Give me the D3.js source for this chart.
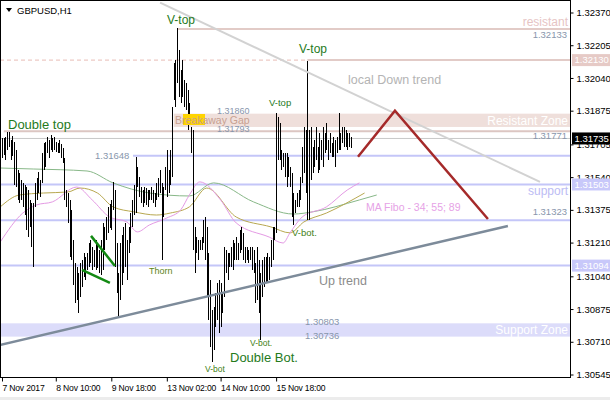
<!DOCTYPE html>
<html><head><meta charset="utf-8">
<script src="https://cdn.jsdelivr.net/npm/d3@7"></script>
<style>
html,body{margin:0;padding:0;background:#fff;}
svg{display:block;font-family:"Liberation Sans",Arial,sans-serif;}
</style></head><body>
<svg id="c" width="610" height="400"></svg>
<script>
// ---------- DATA ----------
const symbol = "GBPUSD,H1";
const priceTicks = [1.32370,1.32205,1.32040,1.31875,1.31705,1.31540,1.31375,1.31210,1.31040,1.30875,1.30710,1.30545];
const dateLabels = ["7 Nov 2017","8 Nov 10:00","9 Nov 18:00","13 Nov 02:00","14 Nov 10:00","15 Nov 18:00"];
const dateLabelBars = [0,31,63,95,126,158];

const highs = [
1.31738,1.31738,1.31743,1.31768,1.31768,1.31727,1.31748,1.31717,1.31677,1.31576,
1.31561,1.31526,1.31511,1.31501,1.31490,1.31475,1.31425,1.31410,1.31410,1.31511,
1.31536,1.31566,1.31526,1.31662,1.31712,1.31717,1.31743,1.31727,1.31753,1.31738,
1.31743,1.31717,1.31712,1.31727,1.31707,1.31687,1.31637,1.31475,1.31460,1.31425,
1.31375,1.31223,1.31107,1.31087,1.31057,1.31107,1.31123,1.31158,1.31138,1.31158,
1.31208,1.31223,1.31188,1.31173,1.31223,1.31198,1.31173,1.31223,1.31309,1.31289,
1.31339,1.31390,1.31405,1.31425,1.31516,1.31475,1.31208,1.31057,1.31208,1.31249,
1.31289,1.31309,1.31223,1.31289,1.31359,1.31425,1.31501,1.31642,1.31591,1.31541,
1.31490,1.31475,1.31490,1.31485,1.31475,1.31475,1.31490,1.31475,1.31460,1.31511,
1.31536,1.31576,1.31511,1.31490,1.31591,1.31677,1.31576,1.31677,
1.31894,1.32115,1.32131,1.32292,1.32181,1.32080,1.32131,1.32030,1.32015,1.31979,
1.31914,1.31793,1.31778,1.31289,1.31238,1.31223,1.31223,1.31238,1.31324,1.31339,
1.31289,1.31158,1.31022,1.30871,1.30886,1.30956,1.31007,1.31022,1.31007,1.30956,
1.31188,1.31173,1.31158,1.31158,1.31188,1.31223,1.31208,1.31238,1.31208,1.31274,
1.31289,1.31259,1.31188,1.31188,1.31173,1.31188,1.31188,1.31173,1.31107,1.31188,
1.31123,1.31057,1.31123,1.31138,1.31138,1.31158,1.31138,1.31223,1.31289,1.31289,
1.31863,1.31843,1.31813,1.31677,1.31662,1.31662,1.31662,1.31642,1.31591,1.31561,
1.31460,1.31425,1.31460,1.31475,1.31541,1.31692,1.31793,1.31778,1.32126,1.31778,
1.31793,1.31692,1.31727,1.31793,1.31692,1.31763,1.31727,1.31793,1.31763,1.31813,
1.31727,1.31763,1.31712,1.31743,1.31727,1.31743,1.31863,1.31763,1.31793,1.31793,
1.31778,1.31763,1.31763,1.31743];
const lows = [
1.31637,1.31652,1.31627,1.31677,1.31692,1.31627,1.31647,1.31501,1.31490,1.31425,
1.31410,1.31425,1.31390,1.31349,1.31274,1.31238,1.31289,1.31188,1.31087,1.31390,
1.31425,1.31460,1.31440,1.31511,1.31576,1.31591,1.31662,1.31637,1.31677,1.31667,
1.31677,1.31667,1.31662,1.31662,1.31637,1.31612,1.31425,1.31390,1.31309,1.31138,
1.31123,1.30997,1.30906,1.30921,1.30855,1.30936,1.30986,1.31037,1.31022,1.31072,
1.31087,1.31107,1.31072,1.31087,1.31072,1.31082,1.31057,1.31047,1.31072,1.31173,
1.31223,1.31259,1.31284,1.31274,1.31375,1.31087,1.30956,1.30835,1.30921,1.30997,
1.31057,1.31087,1.31022,1.31158,1.31208,1.31289,1.31349,1.31359,1.31490,1.31440,
1.31410,1.31390,1.31410,1.31400,1.31390,1.31425,1.31425,1.31410,1.31390,1.31425,
1.31440,1.31460,1.31123,1.31339,1.31475,1.31440,1.31460,1.31501,
1.31541,1.31929,1.31894,1.32015,1.31944,1.31914,1.31944,1.31894,1.31879,1.31778,
1.31843,1.31662,1.31173,1.31057,1.31158,1.31123,1.31173,1.31173,1.31208,1.31123,
1.30936,1.30820,1.30684,1.30608,1.30669,1.30785,1.30820,1.30755,1.30785,1.30855,
1.30936,1.31057,1.31022,1.31087,1.31087,1.31072,1.31123,1.31123,1.31123,1.31158,
1.31173,1.31123,1.31107,1.31123,1.31107,1.31123,1.31072,1.31057,1.30906,1.30921,
1.30855,1.30719,1.30936,1.30986,1.31007,1.31007,1.31022,1.31087,1.31123,1.31223,
1.31259,1.31627,1.31627,1.31576,1.31591,1.31541,1.31490,1.31541,1.31490,1.31339,
1.31299,1.31359,1.31390,1.31390,1.31425,1.31511,1.31561,1.31460,1.31324,1.31324,
1.31526,1.31561,1.31591,1.31627,1.31561,1.31576,1.31627,1.31591,1.31662,1.31677,
1.31627,1.31662,1.31642,1.31642,1.31591,1.31662,1.31677,1.31677,1.31712,1.31692,
1.31692,1.31677,1.31692,1.31687];

// moving averages (bar index, price)
const ma34 = [[-1,1.31213],[12,1.31359],[20,1.31400],[29,1.31415],[43,1.31490],[52,1.31425],[62,1.31339],[72,1.31314],[78,1.31264],[85,1.31299],[95,1.31334],[103,1.31375],[108,1.31450],[114,1.31516],[126,1.31425],[135,1.31309],[154,1.31238],[162,1.31208],[166,1.31259],[173,1.31339],[187,1.31390],[199,1.31475],[206,1.31511]];
const ma55 = [[-1,1.31390],[10,1.31450],[24,1.31460],[38,1.31465],[45,1.31485],[55,1.31460],[64,1.31390],[76,1.31365],[89,1.31349],[97,1.31359],[108,1.31390],[118,1.31485],[135,1.31339],[155,1.31289],[166,1.31259],[174,1.31314],[187,1.31359],[209,1.31460]];
const ma89 = [[-1,1.31586],[18,1.31581],[49,1.31571],[64,1.31511],[85,1.31460],[108,1.31445],[122,1.31511],[145,1.31415],[168,1.31354],[179,1.31365],[206,1.31425],[216,1.31450]];

// levels
const bidPrice = 1.31735;
const resistantTop = 1.32287, vTopLevel = 1.32130;
const resZone = [1.31860, 1.31793];
const doubleTopLevel = 1.31771;
const blueLevels = [1.31648, 1.31503, 1.31323, 1.31094];
const supZone = [1.30803, 1.30736];

// trend lines (bar index, price)
const upTrend = [[-1.2,1.30694],[291.6,1.31294]];
const downTrend = [[91.1,1.32420],[310.1,1.31516]];
const zigzag = [[205.2,1.31643],[226.5,1.31875],[280.1,1.31329]];
const greenA = [[51.3,1.31244],[65.1,1.31092]];
const greenB = [[46.1,1.31072],[62.2,1.31007]];

// ---------- CHART ----------
const svg = d3.select("#c");
const W = 570, H = 377;
const x = d3.scaleLinear().domain([0, 327.4]).range([2, W]);
const y = d3.scaleLinear().domain([1.30545, 1.32370]).range([374.5, 12.5]);

svg.append("rect").attr("x",0).attr("y",0).attr("width",610).attr("height",400).attr("fill","#fff");
svg.append("rect").attr("x",0).attr("y",397).attr("width",610).attr("height",3).attr("fill","#ececec");

svg.append("defs").append("clipPath").attr("id","pc").append("rect")
  .attr("x",1).attr("y",1).attr("width",W-1).attr("height",H-1);
const g = svg.append("g").attr("clip-path","url(#pc)");

const PINK = "#e2cbc7", BLUE = "#c4c6f8";
function hline(p, i0, color, w, dash){
  g.append("line").attr("x1", i0==null?0:x(i0)).attr("x2", W)
   .attr("y1", y(p)).attr("y2", y(p)).attr("stroke", color).attr("stroke-width", w)
   .attr("stroke-dasharray", dash||null);
}
function band(p1, p2, i0, color){
  g.append("rect").attr("x", i0==null?0:x(i0)).attr("width", W-(i0==null?0:x(i0)))
   .attr("y", y(p1)).attr("height", y(p2)-y(p1)).attr("fill", color);
}
// zones
band(resZone[0], resZone[1], 99, "#efdfdb");
band(supZone[0], supZone[1], null, "#dcdcfa");
// levels
hline(vTopLevel, null, "#e8bdb6", 1, "4,3");
hline(vTopLevel, 176, PINK, 2);
hline(resistantTop, 101, PINK, 2);
hline(doubleTopLevel, 1, "#dcc6c2", 2);
hline(bidPrice, null, "#c8c8c8", 1);
hline(blueLevels[0], 75.5, BLUE, 2);
hline(blueLevels[1], null, BLUE, 2);
hline(blueLevels[2], null, BLUE, 2);
hline(blueLevels[3], null, BLUE, 2);

// moving averages
const ln = d3.line().x(d=>x(d[0])).y(d=>y(d[1])).curve(d3.curveMonotoneX);
g.append("path").attr("d", ln(ma89)).attr("fill","none").attr("stroke","#88b888").attr("stroke-width",1);
g.append("path").attr("d", ln(ma55)).attr("fill","none").attr("stroke","#b8a850").attr("stroke-width",1);
g.append("path").attr("d", ln(ma34)).attr("fill","none").attr("stroke","#e49ae4").attr("stroke-width",1);

// bars
g.append("g").selectAll("line").data(highs).join("line")
  .attr("x1",(d,i)=>Math.round(x(i))+0.5).attr("x2",(d,i)=>Math.round(x(i))+0.5)
  .attr("y1",d=>Math.round(y(d))).attr("y2",(d,i)=>Math.round(y(lows[i])))
  .attr("stroke","#000").attr("stroke-width",1).attr("shape-rendering","crispEdges");

// trend lines
const sl = d3.line().x(d=>x(d[0])).y(d=>y(d[1]));
g.append("path").attr("d", sl(downTrend)).attr("stroke","#d2d2d2").attr("stroke-width",2).attr("fill","none");
g.append("path").attr("d", sl(upTrend)).attr("stroke","#7d8b9a").attr("stroke-width",2.5).attr("fill","none");
g.append("path").attr("d", sl(zigzag)).attr("stroke","#a52a2a").attr("stroke-width",2.5).attr("fill","none");
g.append("path").attr("d", sl(greenA)).attr("stroke","#138a13").attr("stroke-width",2.5).attr("fill","none");
g.append("path").attr("d", sl(greenB)).attr("stroke","#138a13").attr("stroke-width",2.5).attr("fill","none");

// yellow marker
g.append("rect").attr("x",183).attr("y",114).attr("width",22).attr("height",11).attr("fill","#ffd400");

// annotations (text, layout)
const GREEN = "#257a1c", SMALLG = "#3f7f16", GREYV = "#8896ac";
const notes = [
  {t:"Double top", x:8, y:129, s:13, f:GREEN},
  {t:"V-top", x:167, y:24, s:12, f:GREEN},
  {t:"V-top", x:299, y:53, s:12, f:GREEN},
  {t:"V-top", x:269, y:106, s:9.5, f:GREEN},
  {t:"V-bot.", x:292, y:236, s:9.5, f:SMALLG},
  {t:"V-bot.", x:250, y:346, s:8.5, f:SMALLG},
  {t:"V-bot", x:205, y:372, s:8.5, f:SMALLG},
  {t:"Double Bot.", x:230, y:362, s:13, f:GREEN},
  {t:"Thorn", x:149, y:274, s:9, f:"#5e8418"},
  {t:"Up trend", x:319, y:285, s:12.5, f:"#8c8c8c"},
  {t:"local Down trend", x:348, y:84, s:12.5, f:"#b4b4b4"},
  {t:"MA Fibo - 34; 55; 89", x:366, y:211, s:10.5, f:"#e6a2e6"},
  {t:"Breakaway Gap", x:175, y:124, s:10.5, f:"#c8a090"},
  {t:"1.31860", x:217, y:114, s:9, f:GREYV},
  {t:"1.31793", x:217, y:132, s:9, f:GREYV},
  {t:"1.31648", x:95, y:159, s:9.5, f:GREYV},
  {t:"1.30803", x:305, y:325, s:9.5, f:GREYV},
  {t:"1.30736", x:305, y:339, s:9.5, f:GREYV},
  {t:"1.32133", x:567, y:38, s:9.5, f:GREYV, a:"end"},
  {t:"1.31771", x:567, y:139, s:9.5, f:GREYV, a:"end"},
  {t:"1.31323", x:567, y:215, s:9.5, f:GREYV, a:"end"},
  {t:"resistant", x:568, y:26, s:12, f:"#e6c4c4", a:"end"},
  {t:"Resistant Zone", x:568, y:125, s:12, f:"#ffffff", a:"end"},
  {t:"support", x:568, y:195, s:12, f:"#bcbcf4", a:"end"},
  {t:"Support Zone", x:568, y:334, s:12, f:"#ffffff", a:"end"}
];
svg.append("g").selectAll("text").data(notes).join("text")
  .attr("x",d=>d.x).attr("y",d=>d.y).attr("font-size",d=>d.s).attr("fill",d=>d.f)
  .attr("text-anchor",d=>d.a||"start").text(d=>d.t);

// frame
svg.append("rect").attr("x",0.5).attr("y",0.5).attr("width",W).attr("height",H)
  .attr("fill","none").attr("stroke","#000").attr("stroke-width",1);

// title
svg.append("path").attr("d","M6,8 L12,8 L9,12 Z").attr("fill","#000");
svg.append("text").attr("x",17).attr("y",14).attr("font-size",9.5).attr("fill","#000").text(symbol);

// right axis
const gy = svg.append("g").attr("transform",`translate(${W+0.5},0)`)
  .call(d3.axisRight(y).tickValues(priceTicks).tickFormat(d3.format(".5f")).tickSize(3).tickPadding(3));
gy.select(".domain").remove();
gy.selectAll("text").attr("font-size",9.5).attr("font-family","Liberation Sans, Arial, sans-serif").attr("fill","#000");
gy.selectAll("line").attr("stroke","#000");

// highlighted price labels
const tags = [
  {p:vTopLevel, bg:"#e6cac6", fg:"#fff"},
  {p:bidPrice, bg:"#000", fg:"#fff"},
  {p:blueLevels[1], bg:"#c8c8fa", fg:"#fff"},
  {p:blueLevels[3], bg:"#c8c8fa", fg:"#fff"}
];
const tg = svg.append("g");
tags.forEach(t=>{
  tg.append("rect").attr("x",572).attr("y",y(t.p)-6).attr("width",38).attr("height",12).attr("fill",t.bg);
  tg.append("text").attr("x",574.5).attr("y",y(t.p)).attr("dy","0.35em").attr("font-size",9.5)
    .attr("fill",t.fg).text(d3.format(".5f")(t.p));
});

// bottom axis
const gx = svg.append("g").attr("transform",`translate(0,${H+0.5})`)
  .call(d3.axisBottom(x).tickValues(dateLabelBars).tickFormat((d,i)=>dateLabels[i]).tickSize(4).tickPadding(3.6));
gx.select(".domain").remove();
gx.selectAll("text").attr("text-anchor","start").attr("x",0).attr("font-size",8.6)
  .attr("letter-spacing","-0.2px")
  .attr("font-family","Liberation Sans, Arial, sans-serif").attr("fill","#000");
gx.selectAll("line").attr("stroke","#000");
</script>
</body></html>
